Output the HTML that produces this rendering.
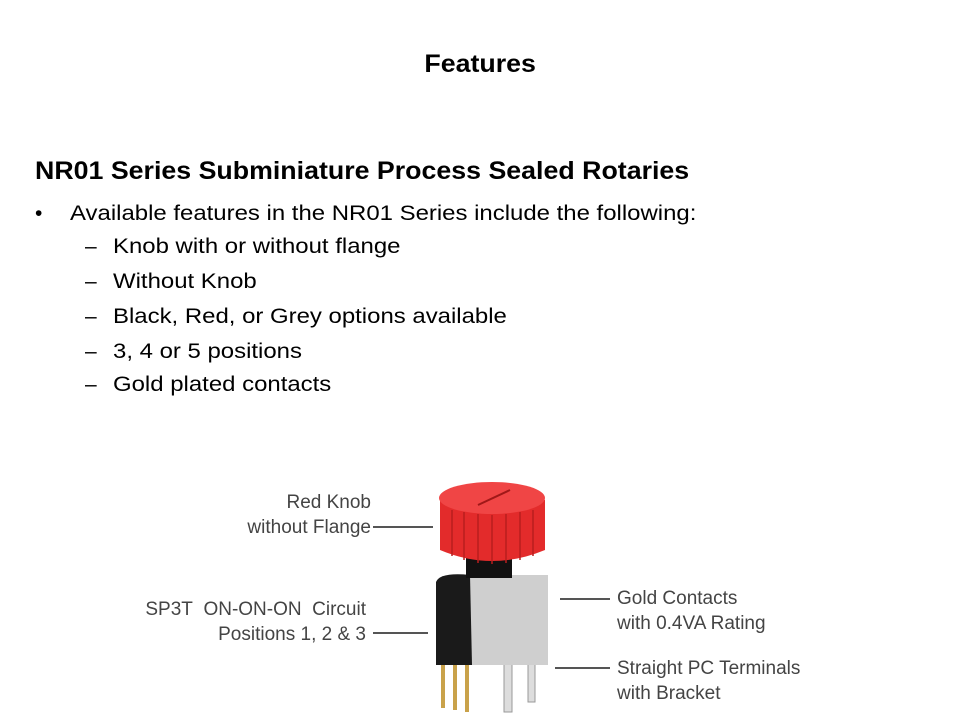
<!DOCTYPE html>
<html><head><meta charset="utf-8"><style>
body{margin:0;width:960px;height:720px;background:#fff;position:relative;overflow:hidden;font-family:"Liberation Sans",sans-serif;color:#000}
.t{position:absolute;white-space:nowrap}
.b{font-size:21px;transform:scaleX(1.14);transform-origin:0 0}
.lab{position:absolute;white-space:nowrap;font-family:"Liberation Sans Narrow","Liberation Sans",sans-serif;font-size:19px;color:#444;line-height:25px}
.ln{position:absolute;height:2px;background:#555}
</style></head><body>
<div class="t" style="left:0;width:960px;text-align:center;top:50px;font-size:25px;font-weight:bold"><span style="display:inline-block;transform:scaleX(1.07)">Features</span></div>
<div class="t" style="left:35px;top:157px;font-size:25px;font-weight:bold;transform:scaleX(1.07);transform-origin:0 0">NR01 Series Subminiature Process Sealed Rotaries</div>
<div class="t" style="left:35px;top:202px;font-size:21px">•</div>
<div class="t b" style="left:70px;top:202px">Available features in the NR01 Series include the following:</div>
<div class="t" style="left:85px;top:235px;font-size:21px">–</div><div class="t b" style="left:113px;top:235px">Knob with or without flange</div>
<div class="t" style="left:85px;top:270px;font-size:21px">–</div><div class="t b" style="left:113px;top:270px">Without Knob</div>
<div class="t" style="left:85px;top:305px;font-size:21px">–</div><div class="t b" style="left:113px;top:305px">Black, Red, or Grey options available</div>
<div class="t" style="left:85px;top:340px;font-size:21px">–</div><div class="t b" style="left:113px;top:340px">3, 4 or 5 positions</div>
<div class="t" style="left:85px;top:373px;font-size:21px">–</div><div class="t b" style="left:113px;top:373px">Gold plated contacts</div>

<svg style="position:absolute;left:0;top:0" width="960" height="720">
 <rect x="441" y="650" width="4" height="58" fill="#c9a24a"/>
 <rect x="453" y="650" width="4" height="60" fill="#c9a24a"/>
 <rect x="465" y="650" width="4" height="62" fill="#c9a24a"/>
 <rect x="504" y="650" width="8" height="62" fill="#ddd" stroke="#999"/>
 <rect x="528" y="650" width="7" height="52" fill="#ddd" stroke="#999"/>
 <rect x="470" y="575" width="78" height="90" fill="#cfcfcf"/>
 <path d="M436 582 Q440 572 470 575 L472 665 L436 665 Z" fill="#1a1a1a"/>
 <rect x="466" y="545" width="46" height="33" fill="#111"/>
 <path d="M440 500 Q492 472 545 500 L545 550 Q492 572 440 550 Z" fill="#e32b2b"/>
 <g stroke="#b81e1e" stroke-width="1.5">
  <line x1="452" y1="510" x2="452" y2="556"/><line x1="464" y1="512" x2="464" y2="560"/>
  <line x1="478" y1="514" x2="478" y2="563"/><line x1="492" y1="515" x2="492" y2="564"/>
  <line x1="506" y1="514" x2="506" y2="563"/><line x1="520" y1="512" x2="520" y2="560"/>
  <line x1="533" y1="510" x2="533" y2="556"/>
 </g>
 <ellipse cx="492" cy="498" rx="53" ry="16" fill="#f04545"/>
 <line x1="478" y1="505" x2="510" y2="490" stroke="#a01818" stroke-width="2"/>
</svg>

<div class="lab" style="right:589px;top:490px;text-align:right">Red Knob<br>without Flange</div>
<div class="ln" style="left:373px;top:526px;width:60px"></div>
<div class="lab" style="right:594px;top:597px;text-align:right">SP3T&nbsp; ON-ON-ON&nbsp; Circuit<br>Positions 1, 2 &amp; 3</div>
<div class="ln" style="left:373px;top:632px;width:55px"></div>
<div class="lab" style="left:617px;top:586px">Gold Contacts<br>with 0.4VA Rating</div>
<div class="ln" style="left:560px;top:598px;width:50px"></div>
<div class="lab" style="left:617px;top:656px">Straight PC Terminals<br>with Bracket</div>
<div class="ln" style="left:555px;top:667px;width:55px"></div>
</body></html>
